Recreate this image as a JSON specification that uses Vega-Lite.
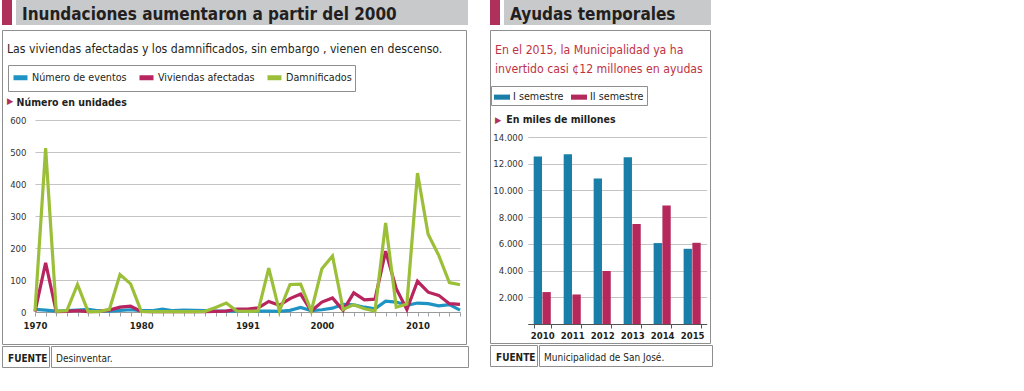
{
  "$schema": "https://vega.github.io/schema/vega-lite/v6.json",
  "padding": {"left": 1, "top": 0, "right": 0, "bottom": 0},
  "background": "white",
  "spacing": 20,
  "resolve": {"scale": {"color": "independent"}, "legend": {"color": "independent"}},
  "config": {
    "font": "Liberation Sans Narrow, DejaVu Sans Condensed, Roboto Condensed, sans-serif",
    "view": {"stroke": null},
    "title": {"font": "Liberation Sans Narrow, DejaVu Sans Condensed, Roboto Condensed, sans-serif", "anchor": "start", "frame": "group", "color": "#231f20", "fontWeight": "normal"},
    "axis": {"labelFont": "Liberation Sans Narrow, DejaVu Sans Condensed, Roboto Condensed, sans-serif", "titleFont": "Liberation Sans Narrow, DejaVu Sans Condensed, Roboto Condensed, sans-serif"},
    "legend": {"labelFont": "Liberation Sans Narrow, DejaVu Sans Condensed, Roboto Condensed, sans-serif"}
  },
  "datasets": {
    "lineas": [
      {"anio": 1970, "serie": "Número de eventos", "valor": 8},
      {"anio": 1971, "serie": "Número de eventos", "valor": 6},
      {"anio": 1972, "serie": "Número de eventos", "valor": 3},
      {"anio": 1973, "serie": "Número de eventos", "valor": 4},
      {"anio": 1974, "serie": "Número de eventos", "valor": 6},
      {"anio": 1975, "serie": "Número de eventos", "valor": 8},
      {"anio": 1976, "serie": "Número de eventos", "valor": 4},
      {"anio": 1977, "serie": "Número de eventos", "valor": 3},
      {"anio": 1978, "serie": "Número de eventos", "valor": 5},
      {"anio": 1979, "serie": "Número de eventos", "valor": 7},
      {"anio": 1980, "serie": "Número de eventos", "valor": 4},
      {"anio": 1981, "serie": "Número de eventos", "valor": 4},
      {"anio": 1983, "serie": "Número de eventos", "valor": 9},
      {"anio": 1984, "serie": "Número de eventos", "valor": 4},
      {"anio": 1985, "serie": "Número de eventos", "valor": 6},
      {"anio": 1986, "serie": "Número de eventos", "valor": 5},
      {"anio": 1987, "serie": "Número de eventos", "valor": 4},
      {"anio": 1988, "serie": "Número de eventos", "valor": 3},
      {"anio": 1989, "serie": "Número de eventos", "valor": 3},
      {"anio": 1990, "serie": "Número de eventos", "valor": 3},
      {"anio": 1991, "serie": "Número de eventos", "valor": 4},
      {"anio": 1993, "serie": "Número de eventos", "valor": 3},
      {"anio": 1994, "serie": "Número de eventos", "valor": 3},
      {"anio": 1995, "serie": "Número de eventos", "valor": 2},
      {"anio": 1996, "serie": "Número de eventos", "valor": 5},
      {"anio": 1998, "serie": "Número de eventos", "valor": 14},
      {"anio": 1999, "serie": "Número de eventos", "valor": 4},
      {"anio": 2000, "serie": "Número de eventos", "valor": 7},
      {"anio": 2001, "serie": "Número de eventos", "valor": 12},
      {"anio": 2002, "serie": "Número de eventos", "valor": 24},
      {"anio": 2003, "serie": "Número de eventos", "valor": 22},
      {"anio": 2004, "serie": "Número de eventos", "valor": 15},
      {"anio": 2005, "serie": "Número de eventos", "valor": 10},
      {"anio": 2007, "serie": "Número de eventos", "valor": 34},
      {"anio": 2008, "serie": "Número de eventos", "valor": 31},
      {"anio": 2009, "serie": "Número de eventos", "valor": 21},
      {"anio": 2010, "serie": "Número de eventos", "valor": 28},
      {"anio": 2011, "serie": "Número de eventos", "valor": 26},
      {"anio": 2012, "serie": "Número de eventos", "valor": 19},
      {"anio": 2013, "serie": "Número de eventos", "valor": 23},
      {"anio": 2014, "serie": "Número de eventos", "valor": 6},
      {"anio": 1970, "serie": "Viviendas afectadas", "valor": 1},
      {"anio": 1971, "serie": "Viviendas afectadas", "valor": 154},
      {"anio": 1972, "serie": "Viviendas afectadas", "valor": 1},
      {"anio": 1973, "serie": "Viviendas afectadas", "valor": 2},
      {"anio": 1974, "serie": "Viviendas afectadas", "valor": 4},
      {"anio": 1975, "serie": "Viviendas afectadas", "valor": 1},
      {"anio": 1976, "serie": "Viviendas afectadas", "valor": 2},
      {"anio": 1977, "serie": "Viviendas afectadas", "valor": 6},
      {"anio": 1978, "serie": "Viviendas afectadas", "valor": 15},
      {"anio": 1979, "serie": "Viviendas afectadas", "valor": 18},
      {"anio": 1980, "serie": "Viviendas afectadas", "valor": 2},
      {"anio": 1981, "serie": "Viviendas afectadas", "valor": 1},
      {"anio": 1983, "serie": "Viviendas afectadas", "valor": 1},
      {"anio": 1984, "serie": "Viviendas afectadas", "valor": 1},
      {"anio": 1985, "serie": "Viviendas afectadas", "valor": 1},
      {"anio": 1986, "serie": "Viviendas afectadas", "valor": 1},
      {"anio": 1987, "serie": "Viviendas afectadas", "valor": 1},
      {"anio": 1988, "serie": "Viviendas afectadas", "valor": 2},
      {"anio": 1989, "serie": "Viviendas afectadas", "valor": 3},
      {"anio": 1990, "serie": "Viviendas afectadas", "valor": 9},
      {"anio": 1991, "serie": "Viviendas afectadas", "valor": 9},
      {"anio": 1993, "serie": "Viviendas afectadas", "valor": 13},
      {"anio": 1994, "serie": "Viviendas afectadas", "valor": 33},
      {"anio": 1995, "serie": "Viviendas afectadas", "valor": 21},
      {"anio": 1996, "serie": "Viviendas afectadas", "valor": 42},
      {"anio": 1998, "serie": "Viviendas afectadas", "valor": 56},
      {"anio": 1999, "serie": "Viviendas afectadas", "valor": 3},
      {"anio": 2000, "serie": "Viviendas afectadas", "valor": 31},
      {"anio": 2001, "serie": "Viviendas afectadas", "valor": 44},
      {"anio": 2002, "serie": "Viviendas afectadas", "valor": 5},
      {"anio": 2003, "serie": "Viviendas afectadas", "valor": 60},
      {"anio": 2004, "serie": "Viviendas afectadas", "valor": 38},
      {"anio": 2005, "serie": "Viviendas afectadas", "valor": 40},
      {"anio": 2007, "serie": "Viviendas afectadas", "valor": 190},
      {"anio": 2008, "serie": "Viviendas afectadas", "valor": 73},
      {"anio": 2009, "serie": "Viviendas afectadas", "valor": 8},
      {"anio": 2010, "serie": "Viviendas afectadas", "valor": 96},
      {"anio": 2011, "serie": "Viviendas afectadas", "valor": 62},
      {"anio": 2012, "serie": "Viviendas afectadas", "valor": 52},
      {"anio": 2013, "serie": "Viviendas afectadas", "valor": 26},
      {"anio": 2014, "serie": "Viviendas afectadas", "valor": 24},
      {"anio": 1970, "serie": "Damnificados", "valor": 3},
      {"anio": 1971, "serie": "Damnificados", "valor": 512},
      {"anio": 1972, "serie": "Damnificados", "valor": 2},
      {"anio": 1973, "serie": "Damnificados", "valor": 4},
      {"anio": 1974, "serie": "Damnificados", "valor": 86},
      {"anio": 1975, "serie": "Damnificados", "valor": 1},
      {"anio": 1976, "serie": "Damnificados", "valor": 1},
      {"anio": 1977, "serie": "Damnificados", "valor": 8},
      {"anio": 1978, "serie": "Damnificados", "valor": 117},
      {"anio": 1979, "serie": "Damnificados", "valor": 88},
      {"anio": 1980, "serie": "Damnificados", "valor": 2},
      {"anio": 1981, "serie": "Damnificados", "valor": 1},
      {"anio": 1983, "serie": "Damnificados", "valor": 1},
      {"anio": 1984, "serie": "Damnificados", "valor": 1},
      {"anio": 1985, "serie": "Damnificados", "valor": 1},
      {"anio": 1986, "serie": "Damnificados", "valor": 1},
      {"anio": 1987, "serie": "Damnificados", "valor": 2},
      {"anio": 1988, "serie": "Damnificados", "valor": 14},
      {"anio": 1989, "serie": "Damnificados", "valor": 28},
      {"anio": 1990, "serie": "Damnificados", "valor": 3},
      {"anio": 1991, "serie": "Damnificados", "valor": 2},
      {"anio": 1993, "serie": "Damnificados", "valor": 3},
      {"anio": 1994, "serie": "Damnificados", "valor": 137},
      {"anio": 1995, "serie": "Damnificados", "valor": 3},
      {"anio": 1996, "serie": "Damnificados", "valor": 86},
      {"anio": 1998, "serie": "Damnificados", "valor": 87},
      {"anio": 1999, "serie": "Damnificados", "valor": 3},
      {"anio": 2000, "serie": "Damnificados", "valor": 135},
      {"anio": 2001, "serie": "Damnificados", "valor": 175},
      {"anio": 2002, "serie": "Damnificados", "valor": 8},
      {"anio": 2003, "serie": "Damnificados", "valor": 23},
      {"anio": 2004, "serie": "Damnificados", "valor": 10},
      {"anio": 2005, "serie": "Damnificados", "valor": 3},
      {"anio": 2007, "serie": "Damnificados", "valor": 278},
      {"anio": 2008, "serie": "Damnificados", "valor": 15},
      {"anio": 2009, "serie": "Damnificados", "valor": 25},
      {"anio": 2010, "serie": "Damnificados", "valor": 434},
      {"anio": 2011, "serie": "Damnificados", "valor": 243},
      {"anio": 2012, "serie": "Damnificados", "valor": 177},
      {"anio": 2013, "serie": "Damnificados", "valor": 92},
      {"anio": 2014, "serie": "Damnificados", "valor": 85}
    ],
    "ayudas": [
      {"anio": "2010", "semestre": "I semestre", "monto": 12540},
      {"anio": "2010", "semestre": "II semestre", "monto": 2390},
      {"anio": "2011", "semestre": "I semestre", "monto": 12710},
      {"anio": "2011", "semestre": "II semestre", "monto": 2210},
      {"anio": "2012", "semestre": "I semestre", "monto": 10900},
      {"anio": "2012", "semestre": "II semestre", "monto": 3970},
      {"anio": "2013", "semestre": "I semestre", "monto": 12490},
      {"anio": "2013", "semestre": "II semestre", "monto": 7490},
      {"anio": "2014", "semestre": "I semestre", "monto": 6060},
      {"anio": "2014", "semestre": "II semestre", "monto": 8870},
      {"anio": "2015", "semestre": "I semestre", "monto": 5630},
      {"anio": "2015", "semestre": "II semestre", "monto": 6080}
    ]
  },
  "hconcat": [
    {
      "spacing": 4,
      "vconcat": [
        {
          "spacing": 4,
          "hconcat": [
            {"width": 10, "height": 25, "view": {"fill": "#b0305c", "stroke": null}, "data": {"values": [{}]}, "mark": {"type": "point", "opacity": 0}, "encoding": {}},
            {"width": 452, "height": 25, "view": {"fill": "#c8c9cb", "stroke": null}, "data": {"values": [{}]}, "mark": {"type": "point", "opacity": 0}, "encoding": {},
             "title": {"text": "Inundaciones aumentaron a partir del 2000", "fontSize": 17, "fontWeight": "bold", "dx": 6, "offset": -24}}
          ]
        },
        {
          "spacing": 0,
          "vconcat": [
            {
              "width": 464, "height": 314,
              "view": {"stroke": "#8e8e8e", "strokeWidth": 1},
              "title": {"text": "Las viviendas afectadas y los damnificados, sin embargo , vienen en descenso.", "subtitle": "▶", "fontSize": 12.2, "dx": 5, "offset": -75.5, "subtitleColor": "#b0305c", "subtitleFontSize": 9, "subtitlePadding": 41.3},
              "data": {"name": "lineas"},
              "mark": {"type": "line", "strokeWidth": 3.2},
              "encoding": {
                "x": {"field": "anio", "type": "ordinal",
                      "scale": {"type": "point", "range": [33, 458], "padding": 0},
                      "axis": {"title": null, "offset": -32, "labelAngle": 0, "labelOverlap": false, "domainColor": "#9a9a9a", "tickColor": "#9aa6b0", "tickSize": 4, "labelPadding": 4, "labelFontSize": 9.5, "labelFontWeight": "bold", "labelColor": "#231f20",
                               "labelExpr": "(datum.value == 1970 || datum.value == 1980 || datum.value == 1991 || datum.value == 2000 || datum.value == 2010) ? datum.value : ''"}},
                "y": {"field": "valor", "type": "quantitative",
                      "scale": {"domain": [0, 600], "range": [282, 90], "nice": false},
                      "axis": {"title": "Número en unidades", "titleAngle": 0, "titleAlign": "left", "titleBaseline": "alphabetic", "titleX": -13, "titleY": 75, "titleFontWeight": "bold", "titleFontSize": 10.5, "titleColor": "#231f20",
                               "offset": -27, "domain": false, "ticks": false, "labelPadding": 3, "labelFontSize": 9.5, "labelColor": "#333333", "values": [0, 100, 200, 300, 400, 500, 600], "grid": true, "gridColor": "#c4c4c4"}},
                "color": {"field": "serie", "type": "nominal",
                          "scale": {"domain": ["Número de eventos", "Viviendas afectadas", "Damnificados"], "range": ["#1e93c4", "#b8245e", "#9cbf3a"]},
                          "legend": {"orient": "none", "legendX": 6, "legendY": 65, "direction": "horizontal", "title": null, "symbolType": "stroke", "symbolSize": 196, "symbolStrokeWidth": 5, "labelFontSize": 10.7, "labelColor": "#231f20", "strokeColor": "#8e8e8e", "padding": 3, "columnPadding": 2, "labelOffset": 2}}
              }
            },
            {
              "spacing": 0,
              "hconcat": [
                {"width": 47, "height": 21, "view": {"stroke": "#8e8e8e"}, "data": {"values": [{}]}, "mark": {"type": "point", "opacity": 0}, "encoding": {},
                 "title": {"text": "FUENTE", "fontSize": 10, "fontWeight": "bold", "dx": 6, "offset": -17.6}},
                {"width": 417, "height": 21, "view": {"stroke": "#8e8e8e"}, "data": {"values": [{}]}, "mark": {"type": "point", "opacity": 0}, "encoding": {},
                 "title": {"text": "Desinventar.", "fontSize": 10, "dx": 5, "offset": -17.6}}
              ]
            }
          ]
        }
      ]
    },
    {
      "spacing": 4,
      "vconcat": [
        {
          "spacing": 4,
          "hconcat": [
            {"width": 10, "height": 25, "view": {"fill": "#b0305c", "stroke": null}, "data": {"values": [{}]}, "mark": {"type": "point", "opacity": 0}, "encoding": {}},
            {"width": 207, "height": 25, "view": {"fill": "#c8c9cb", "stroke": null}, "data": {"values": [{}]}, "mark": {"type": "point", "opacity": 0}, "encoding": {},
             "title": {"text": "Ayudas temporales", "fontSize": 17, "fontWeight": "bold", "dx": 6, "offset": -24}}
          ]
        },
        {
          "spacing": 0,
          "vconcat": [
            {
              "width": 220, "height": 313,
              "view": {"stroke": "#8e8e8e", "strokeWidth": 1},
              "title": {"text": ["En el 2015, la Municipalidad ya ha", "invertido casi ¢12 millones en ayudas"], "lineHeight": 19, "color": "#c0323f", "subtitle": "▶", "fontSize": 12.2, "dx": 5, "offset": -95, "subtitleColor": "#b0305c", "subtitleFontSize": 9, "subtitlePadding": 40.5},
              "data": {"name": "ayudas"},
              "mark": {"type": "bar"},
              "encoding": {
                "x": {"field": "anio", "type": "nominal",
                      "scale": {"range": [37.7, 216.7], "paddingInner": 0.43, "paddingOuter": 0.2},
                      "axis": {"title": null, "offset": -19, "labelAngle": 0, "tickBand": "extent", "domainColor": "#555555", "tickColor": "#555555", "tickSize": 4, "labelPadding": 2, "labelFontSize": 9.5, "labelFontWeight": "bold", "labelColor": "#231f20"}},
                "xOffset": {"field": "semestre", "type": "nominal", "scale": {"paddingInner": 0.05}},
                "y": {"field": "monto", "type": "quantitative",
                      "scale": {"domain": [0, 14000], "range": [294, 107], "nice": false},
                      "axis": {"title": "En miles de millones", "titleAngle": 0, "titleAlign": "left", "titleBaseline": "alphabetic", "titleX": -22, "titleY": 92, "titleFontWeight": "bold", "titleFontSize": 10.5, "titleColor": "#231f20",
                               "offset": -37.7, "domain": false, "ticks": false, "labelPadding": 5, "labelFontSize": 9.5, "labelColor": "#333333", "values": [2000, 4000, 6000, 8000, 10000, 12000, 14000], "labelExpr": "replace(format(datum.value, ','), ',', '.')", "grid": true, "gridColor": "#c4c4c4"}},
                "color": {"field": "semestre", "type": "nominal",
                          "scale": {"domain": ["I semestre", "II semestre"], "range": ["#1a7fa8", "#b5285c"]},
                          "legend": {"orient": "none", "legendX": 1, "legendY": 86, "direction": "horizontal", "title": null, "symbolType": "M-1,-0.32H1V0.32H-1Z", "symbolSize": 256, "symbolStrokeWidth": 0, "labelFontSize": 10.7, "labelColor": "#231f20", "strokeColor": "#8e8e8e", "padding": 3, "columnPadding": 7, "labelOffset": 3}}
              }
            },
            {
              "spacing": 0,
              "hconcat": [
                {"width": 47, "height": 21, "view": {"stroke": "#8e8e8e"}, "data": {"values": [{}]}, "mark": {"type": "point", "opacity": 0}, "encoding": {},
                 "title": {"text": "FUENTE", "fontSize": 10, "fontWeight": "bold", "dx": 6, "offset": -17.6}},
                {"width": 173, "height": 21, "view": {"stroke": "#8e8e8e"}, "data": {"values": [{}]}, "mark": {"type": "point", "opacity": 0}, "encoding": {},
                 "title": {"text": "Municipalidad de San José.", "fontSize": 10, "dx": 5, "offset": -17.6}}
              ]
            }
          ]
        }
      ]
    }
  ]
}
